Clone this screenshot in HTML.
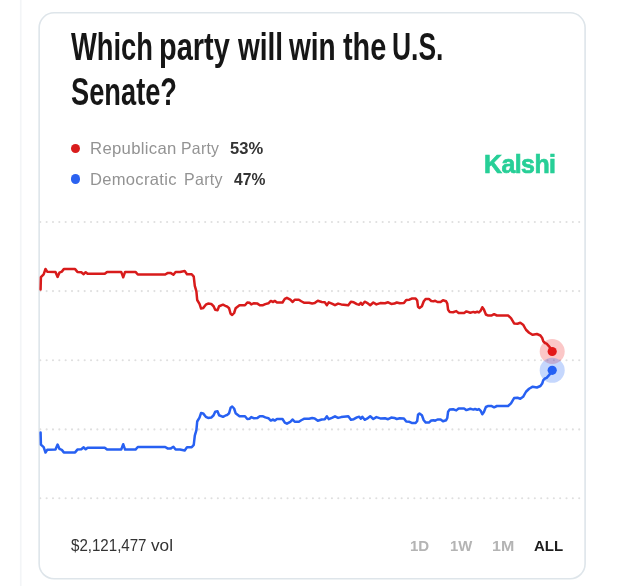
<!DOCTYPE html>
<html><head><meta charset="utf-8">
<style>
html,body{margin:0;padding:0;background:#fff;}
body{width:640px;height:586px;position:relative;overflow:hidden;filter:blur(0.5px);font-family:"Liberation Sans",sans-serif;}
.t{position:absolute;white-space:nowrap;transform-origin:0 0;}
.title{font-weight:bold;font-size:39px;line-height:45px;color:#161616;}
.leg{font-size:16.5px;line-height:20px;letter-spacing:0.3px;color:#939393;}
.pct{font-size:16.5px;line-height:20px;font-weight:bold;color:#333;}
.dot{position:absolute;width:9.6px;height:9.6px;border-radius:50%;}
.kalshi{font-size:26.5px;line-height:34px;font-weight:bold;letter-spacing:-0.6px;color:#27cf97;-webkit-text-stroke:0.7px #27cf97;}
.vol{font-size:16px;line-height:20px;color:#333;}
.rng{font-size:15.5px;line-height:20px;font-weight:bold;color:#b4b4b4;}
.all{color:#1e1e1e;}
svg{position:absolute;left:0;top:0;}
.g{stroke:#dfdfdf;stroke-width:2.1;stroke-dasharray:0.01 6.33;stroke-linecap:round;fill:none;}
</style></head><body>
<div class="t title" style="left:71.40px;top:24px;transform:scaleX(0.7009)">Which</div>
<div class="t title" style="left:158.77px;top:24px;transform:scaleX(0.7424)">party</div>
<div class="t title" style="left:238.30px;top:24px;transform:scaleX(0.7183)">will</div>
<div class="t title" style="left:288.60px;top:24px;transform:scaleX(0.7190)">win</div>
<div class="t title" style="left:343.00px;top:24px;transform:scaleX(0.7404)">the</div>
<div class="t title" style="left:391.95px;top:24px;transform:scaleX(0.6775)">U.S.</div>
<div class="t title" style="left:71.20px;top:69px;transform:scaleX(0.6987)">Senate?</div>

<div class="dot" style="left:70.65px;top:143.7px;background:#d91c1c"></div>
<div class="dot" style="left:70.65px;top:174.2px;background:#2b62f0"></div>
<div class="t leg" style="left:90.39px;top:137.70px;transform:scaleX(1.0133)">Republican</div>
<div class="t leg" style="left:181.34px;top:137.70px;transform:scaleX(0.9564)">Party</div>
<div class="t leg" style="left:90.40px;top:168.50px;transform:scaleX(1.0035)">Democratic</div>
<div class="t leg" style="left:183.63px;top:168.50px;transform:scaleX(0.9692)">Party</div>
<div class="t pct" style="left:230.00px;top:137.70px;transform:scaleX(1.0031)">53%</div>
<div class="t pct" style="left:234.40px;top:168.50px;transform:scaleX(0.9485)">47%</div>
<div class="t kalshi" style="left:483.86px;top:147.10px;transform:scaleX(0.9405)">Kalshi</div>

<svg width="640" height="586" viewBox="0 0 640 586">
<line x1="20.75" y1="0" x2="20.75" y2="586" stroke="#f3f5f7" stroke-width="1.7"/>
<rect x="39.15" y="12.8" width="545.95" height="566" rx="15" ry="15" fill="none" stroke="#dee5ea" stroke-width="1.6"/>
<line x1="40.3" y1="222.0" x2="581" y2="222.0" class="g"/>
<line x1="40.3" y1="291.1" x2="581" y2="291.1" class="g"/>
<line x1="40.3" y1="360.3" x2="581" y2="360.3" class="g"/>
<line x1="40.3" y1="429.4" x2="581" y2="429.4" class="g"/>
<line x1="40.3" y1="498.2" x2="581" y2="498.2" class="g"/>

<circle cx="552.2" cy="351.5" r="12.5" fill="#f02828" fill-opacity="0.26"/>
<circle cx="552.2" cy="370.3" r="12.5" fill="#2a6af8" fill-opacity="0.27"/>
<path d="M40.60,289.40 L40.90,277.10 L43.65,274.30 L45.50,269.00 L47.20,271.70 L55.50,271.90 L57.60,276.90 L59.40,272.70 L61.80,271.60 L63.80,269.10 L75.10,269.10 L77.40,271.90 L81.30,272.20 L83.70,274.20 L85.70,272.20 L87.60,273.75 L104.75,273.75 L107.10,271.90 L121.20,271.90 L123.20,277.30 L125.10,271.90 L133.70,271.90 L135.50,271.90 L137.80,274.50 L165.20,274.50 L167.50,273.10 L170.90,273.10 L173.40,274.70 L175.60,271.90 L180.00,271.90 L184.70,271.10 L187.00,274.20 L191.70,274.20 L193.75,276.60 L194.80,285.90 L196.40,291.40 L197.20,300.00 L199.50,303.90 L201.10,308.60 L203.10,308.10 L205.80,304.70 L208.10,303.60 L211.25,303.90 L213.60,306.25 L215.20,309.80 L217.50,310.20 L219.10,306.25 L223.00,304.70 L226.10,306.25 L227.00,306.40 L229.10,308.30 L230.60,313.75 L232.20,315.00 L234.10,313.00 L235.60,308.30 L239.50,305.20 L245.00,305.20 L247.30,302.50 L249.70,302.80 L251.25,304.40 L253.60,303.30 L257.50,303.60 L259.80,305.20 L263.00,305.20 L265.30,304.10 L268.40,303.30 L270.80,300.90 L273.10,302.00 L274.70,300.90 L277.00,302.50 L282.50,302.50 L284.80,298.90 L286.90,297.80 L290.30,299.70 L292.70,302.00 L294.70,299.70 L298.90,299.70 L301.25,301.25 L304.40,302.80 L309.10,302.80 L312.20,303.40 L314.70,303.10 L317.80,300.80 L321.70,302.00 L324.80,302.30 L326.90,305.20 L328.75,302.30 L331.90,303.60 L335.00,305.20 L338.10,303.60 L341.25,304.40 L348.30,305.20 L350.90,301.70 L353.75,302.30 L356.90,304.10 L359.20,304.70 L360.80,302.80 L362.30,304.70 L364.70,301.70 L367.00,302.80 L370.20,305.20 L373.30,302.50 L376.40,304.40 L380.30,303.10 L385.00,303.30 L388.10,302.30 L391.25,303.90 L394.40,303.60 L396.70,302.50 L399.80,303.30 L403.90,303.10 L406.25,300.00 L409.40,299.70 L411.70,298.60 L415.60,298.40 L417.20,300.50 L418.00,306.70 L419.50,308.00 L421.90,306.25 L423.75,301.25 L425.80,298.90 L428.90,298.90 L431.25,301.00 L433.60,301.25 L435.20,300.80 L437.50,302.00 L440.60,302.00 L443.00,300.20 L446.10,301.25 L447.30,303.60 L448.10,309.80 L449.70,311.90 L453.10,312.20 L456.25,311.10 L458.60,313.00 L464.10,313.00 L466.40,311.40 L470.30,312.70 L473.40,311.90 L475.00,312.50 L477.30,311.70 L478.90,312.50 L480.90,310.30 L482.30,307.20 L483.90,309.50 L485.90,314.50 L488.30,315.60 L491.25,315.60 L494.10,314.20 L496.90,315.50 L508.10,315.50 L511.00,318.10 L514.10,323.40 L517.50,323.75 L520.30,322.80 L523.10,324.70 L526.00,329.75 L529.10,332.75 L532.70,334.80 L536.90,334.00 L540.40,335.50 L542.20,338.00 L543.30,341.30 L545.00,343.00 L546.60,343.60 L549.50,346.80 L552.20,351.50" fill="none" stroke="#d81b1b" stroke-width="2.5" stroke-linejoin="round" stroke-linecap="round"/>
<path d="M40.60,432.60 L40.90,444.60 L43.65,447.20 L45.50,452.50 L47.20,449.80 L55.50,449.60 L57.60,444.60 L59.40,448.80 L61.80,449.90 L63.80,452.40 L75.10,452.40 L77.40,449.60 L81.30,449.30 L83.70,447.30 L85.70,449.30 L87.60,447.75 L104.75,447.75 L107.10,449.60 L121.20,449.60 L123.20,444.20 L125.10,449.60 L133.70,449.60 L135.50,449.60 L137.80,447.00 L165.20,447.00 L167.50,448.40 L170.90,448.40 L173.40,446.80 L175.60,449.60 L180.00,449.60 L184.70,450.40 L187.00,447.30 L191.70,447.30 L193.75,444.90 L194.80,435.60 L196.40,430.10 L197.20,421.50 L199.50,417.60 L201.10,412.90 L203.10,413.40 L205.80,416.80 L208.10,417.90 L211.25,417.60 L213.60,415.25 L215.20,411.70 L217.50,411.30 L219.10,415.25 L223.00,416.80 L226.10,415.25 L227.00,415.10 L229.10,413.20 L230.60,407.75 L232.20,406.50 L234.10,408.50 L235.60,413.20 L239.50,416.30 L245.00,416.30 L247.30,419.00 L249.70,418.70 L251.25,417.10 L253.60,418.20 L257.50,417.90 L259.80,416.30 L263.00,416.30 L265.30,417.40 L268.40,418.20 L270.80,420.60 L273.10,419.50 L274.70,420.60 L277.00,419.00 L282.50,419.00 L284.80,422.60 L286.90,423.70 L290.30,421.80 L292.70,419.50 L294.70,421.80 L298.90,421.80 L301.25,420.25 L304.40,418.70 L309.10,418.70 L312.20,418.10 L314.70,418.40 L317.80,420.70 L321.70,419.50 L324.80,419.20 L326.90,416.30 L328.75,419.20 L331.90,417.90 L335.00,416.30 L338.10,417.90 L341.25,417.10 L348.30,416.30 L350.90,419.80 L353.75,419.20 L356.90,417.40 L359.20,416.80 L360.80,418.70 L362.30,416.80 L364.70,419.80 L367.00,418.70 L370.20,416.30 L373.30,419.00 L376.40,417.10 L380.30,418.40 L385.00,418.20 L388.10,419.20 L391.25,417.60 L394.40,417.90 L396.70,419.00 L399.80,418.20 L403.90,418.40 L406.25,421.50 L409.40,421.80 L411.70,422.90 L415.60,423.10 L417.20,421.00 L418.00,414.80 L419.50,413.50 L421.90,415.25 L423.75,420.25 L425.80,422.60 L428.90,422.60 L431.25,420.50 L433.60,420.25 L435.20,420.70 L437.50,419.50 L440.60,419.50 L443.00,421.30 L446.10,420.25 L447.30,417.90 L448.10,411.70 L449.70,409.60 L453.10,409.30 L456.25,410.40 L458.60,408.50 L464.10,408.50 L466.40,410.10 L470.30,408.80 L473.40,409.60 L475.00,409.00 L477.30,409.80 L478.90,409.00 L480.90,411.20 L482.30,414.30 L483.90,412.00 L485.90,407.00 L488.30,405.90 L491.25,405.90 L494.10,407.30 L496.90,406.00 L508.10,406.00 L511.00,403.40 L514.10,398.10 L517.50,397.75 L520.30,398.70 L523.10,396.80 L526.00,391.75 L529.10,388.75 L532.70,386.70 L536.90,387.50 L540.40,386.00 L542.20,383.50 L543.30,380.20 L545.00,378.50 L546.60,377.90 L549.50,374.70 L552.20,370.30" fill="none" stroke="#2760f2" stroke-width="2.5" stroke-linejoin="round" stroke-linecap="round"/>
<circle cx="552.2" cy="351.5" r="4.6" fill="#e31818"/>
<circle cx="552.2" cy="370.3" r="4.6" fill="#2460f4"/>
</svg>
<div class="t vol" style="left:70.50px;top:536.20px;transform:scaleX(0.9430)">$2,121,477</div>
<div class="t vol" style="left:150.50px;top:536.20px;transform:scaleX(1.0750)">vol</div>
<div class="t rng" style="left:410.28px;top:535.50px;transform:scaleX(0.9694)">1D</div>
<div class="t rng" style="left:449.64px;top:535.50px;transform:scaleX(0.9591)">1W</div>
<div class="t rng" style="left:492.37px;top:535.50px;transform:scaleX(1.0316)">1M</div>
<div class="t rng all" style="left:534.03px;top:535.50px;transform:scaleX(0.9690)">ALL</div>

</body></html>
